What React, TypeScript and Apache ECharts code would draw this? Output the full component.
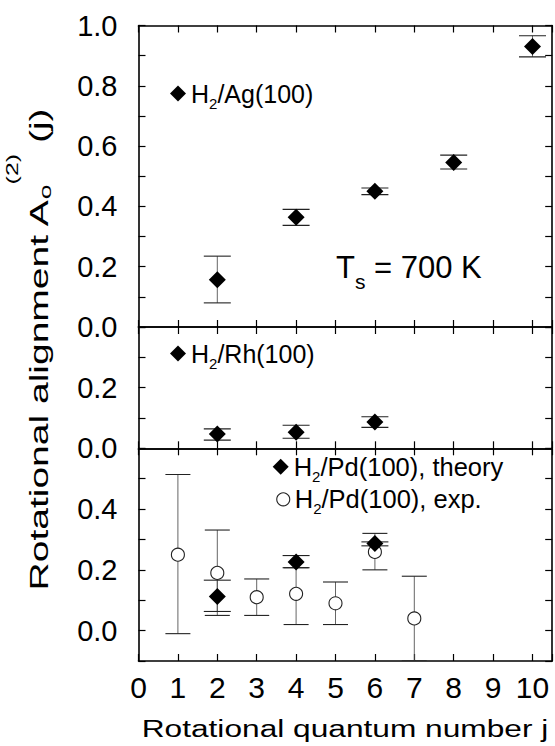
import React, { useEffect, useRef } from 'react';
import * as echarts from 'echarts';

// ---------- data ----------
const agJ = [2, 4, 6, 8, 10];
const agVal = [0.157, 0.364, 0.45, 0.546, 0.93];
const agLow = [0.08, 0.337, 0.439, 0.524, 0.896];
const agHigh = [0.235, 0.39, 0.461, 0.57, 0.966];

const rhJ = [2, 4, 6];
const rhVal = [0.047, 0.053, 0.087];
const rhLow = [0.027, 0.033, 0.069];
const rhHigh = [0.064, 0.076, 0.104];

const pdThJ = [2, 4, 6];
const pdThVal = [0.112, 0.226, 0.287];
const pdThLow = [0.063, 0.207, 0.279];
const pdThHigh = [0.166, 0.247, 0.292];

const pdExJ = [1, 2, 3, 4, 5, 6, 7];
const pdExVal = [0.25, 0.19, 0.11, 0.121, 0.09, 0.259, 0.04];
const pdExLow = [-0.01, 0.05, 0.05, 0.02, 0.02, 0.2, -0.1];
const pdExHigh = [0.514, 0.331, 0.17, 0.207, 0.16, 0.32, 0.179];

const seriesNames = ['H2/Ag(100)', 'H2/Rh(100)', 'H2/Pd(100), theory', 'H2/Pd(100), exp.'];
const panelRanges = [
  [0, 1.0],
  [0, 0.4],
  [-0.1, 0.6],
];
const panelLabelMax = [1.0, 0.2, 0.4];
const xRange = [0, 10.5];
const xTitle = 'Rotational quantum number j';
const tempLabel = '700 K';

const FONT = '"Liberation Sans", Arial, Helvetica, sans-serif';

export default function App() {
  const ref = useRef<HTMLDivElement>(null);

  useEffect(() => {
    if (!ref.current) return;
    const chart = echarts.init(ref.current, null, { renderer: 'svg' });

    const gridTops = [25.5, 327, 448.3];
    const gridHeights = [301.5, 121.3, 212.7];
    const grids = gridTops.map((t, i) => ({
      left: 138.5,
      width: 413.7,
      top: t,
      height: gridHeights[i],
      outerBoundsMode: 'none',
    }));

    const axisLine = { show: true, onZero: false, lineStyle: { color: '#000', width: 1.6 } };
    const axisTick = { show: true, inside: true, length: 7, lineStyle: { color: '#000', width: 1.2 } };

    const xAxes: any[] = [];
    const yAxes: any[] = [];
    for (let g = 0; g < 3; g++) {
      for (const pos of ['bottom', 'top']) {
        xAxes.push({
          type: 'value',
          gridIndex: g,
          position: pos,
          min: xRange[0],
          max: xRange[1],
          interval: 1,
          axisLine,
          axisTick,
          splitLine: { show: false },
          axisLabel: {
            show: g === 2 && pos === 'bottom',
            fontSize: 30,
            fontFamily: FONT,
            color: '#000',
            margin: 11,
            formatter: (v: number) => (Math.abs(v - Math.round(v)) < 1e-6 ? String(Math.round(v)) : ''),
          },
        });
      }
      for (const pos of ['left', 'right']) {
        yAxes.push({
          type: 'value',
          gridIndex: g,
          position: pos,
          min: panelRanges[g][0],
          max: panelRanges[g][1],
          interval: 0.1,
          axisLine,
          axisTick,
          splitLine: { show: false },
          axisLabel: {
            show: pos === 'left',
            fontSize: 29,
            fontFamily: FONT,
            color: '#000',
            margin: 21,
            formatter: (v: number) => {
              const t = Math.round(v * 10);
              if (t % 2 !== 0 || t < 0 || t > Math.round(panelLabelMax[g] * 10)) return '';
              return (t / 10).toFixed(1);
            },
          },
        });
      }
    }

    const errRender = (cap: number) => (params: any, api: any) => {
      const x = api.value(0);
      const lo = api.value(1);
      const hi = api.value(2);
      const pLo = api.coord([x, lo]);
      const pHi = api.coord([x, hi]);
      const stem = { stroke: '#555', lineWidth: 0.9 };
      const capStyle = { stroke: '#222', lineWidth: 1.1 };
      return {
        type: 'group',
        children: [
          { type: 'line', shape: { x1: pLo[0], y1: pLo[1], x2: pHi[0], y2: pHi[1] }, style: stem },
          { type: 'line', shape: { x1: pLo[0] - cap / 2, y1: pLo[1], x2: pLo[0] + cap / 2, y2: pLo[1] }, style: capStyle },
          { type: 'line', shape: { x1: pHi[0] - cap / 2, y1: pHi[1], x2: pHi[0] + cap / 2, y2: pHi[1] }, style: capStyle },
        ],
      };
    };

    const errSeries = (js: number[], lo: number[], hi: number[], g: number, cap: number) => ({
      type: 'custom',
      xAxisIndex: g * 2,
      yAxisIndex: g * 2,
      renderItem: errRender(cap),
      encode: { x: 0, y: [1, 2] },
      data: js.map((j, i) => [j, lo[i], hi[i]]),
      clip: true,
      z: 1,
      silent: true,
    });

    const diamondSeries = (name: string, js: number[], vals: number[], g: number) => ({
      type: 'scatter',
      name,
      xAxisIndex: g * 2,
      yAxisIndex: g * 2,
      symbol: 'diamond',
      symbolSize: 17,
      itemStyle: { color: '#000', opacity: 1 },
      data: js.map((j, i) => [j, vals[i]]),
      z: 3,
    });

    const circleSeries = (name: string, js: number[], vals: number[], g: number) => ({
      type: 'scatter',
      name,
      xAxisIndex: g * 2,
      yAxisIndex: g * 2,
      symbol: 'circle',
      symbolSize: 13,
      itemStyle: { color: '#fff', borderColor: '#222', borderWidth: 1.1, opacity: 1 },
      data: js.map((j, i) => [j, vals[i]]),
      z: 2,
    });

    const mkLegend = (name: string, left: number, top: number, icon: string, size: number, fs: number, itemStyle: any) => ({
      show: true,
      data: [name],
      left,
      top,
      orient: 'vertical',
      padding: 0,
      icon,
      itemWidth: size,
      itemHeight: size,
      selectedMode: false,
      itemStyle,
      formatter: (n: string) => '{m|H}{s|2}{m|' + n.slice(2) + '}',
      textStyle: {
        fontSize: fs,
        fontFamily: FONT,
        color: '#000',
        rich: {
          m: { fontSize: fs, fontFamily: FONT, color: '#000', lineHeight: 34, verticalAlign: 'middle' },
          s: { fontSize: 15, fontFamily: FONT, color: '#000', verticalAlign: 'bottom' },
        },
      },
    });

    const option: any = {
      animation: false,
      backgroundColor: '#fff',
      grid: grids,
      xAxis: xAxes,
      yAxis: yAxes,
      legend: [
        mkLegend(seriesNames[0], 170, 81, 'diamond', 16, 25, { color: '#000', opacity: 1 }),
        mkLegend(seriesNames[1], 170, 341, 'diamond', 16, 25, { color: '#000', opacity: 1 }),
        mkLegend(seriesNames[2], 272.7, 453.7, 'diamond', 16, 25.5, { color: '#000', opacity: 1 }),
        mkLegend(seriesNames[3], 276.2, 486.3, 'circle', 13, 25.5, {
          color: '#fff',
          borderColor: '#222',
          borderWidth: 1.1,
          opacity: 1,
        }),
      ],
      series: [
        errSeries(agJ, agLow, agHigh, 0, 27),
        errSeries(rhJ, rhLow, rhHigh, 1, 27),
        errSeries(pdExJ, pdExLow, pdExHigh, 2, 25),
        errSeries(pdThJ, pdThLow, pdThHigh, 2, 27),
        diamondSeries(seriesNames[0], agJ, agVal, 0),
        diamondSeries(seriesNames[1], rhJ, rhVal, 1),
        circleSeries(seriesNames[3], pdExJ, pdExVal, 2),
        diamondSeries(seriesNames[2], pdThJ, pdThVal, 2),
      ],
      graphic: {
        elements: [
          {
            type: 'text',
            x: 336,
            y: 267.5,
            silent: true,
            style: {
              text: '{m|T}{s|s}{m| = ' + tempLabel + '}',
              x: 0,
              y: 0,
              align: 'left',
              textAlign: 'left',
              verticalAlign: 'middle',
              textVerticalAlign: 'middle',
              fill: '#000',
              font: '31px ' + FONT,
              rich: {
                m: { fontSize: 31, fontFamily: FONT, fill: '#000', color: '#000', lineHeight: 48, verticalAlign: 'middle' },
                s: { fontSize: 21, fontFamily: FONT, fill: '#000', color: '#000', verticalAlign: 'bottom' },
              },
            },
          },
          {
            type: 'text',
            x: 345,
            y: 728.7,
            scaleX: 1.32,
            silent: true,
            style: {
              text: xTitle,
              x: 0,
              y: 0,
              align: 'center',
              textAlign: 'center',
              verticalAlign: 'middle',
              textVerticalAlign: 'middle',
              fill: '#000',
              font: '24px ' + FONT,
            },
          },
          {
            type: 'text',
            x: 39,
            y: 350,
            rotation: Math.PI / 2,
            scaleX: 1.56,
            silent: true,
            style: {
              text: '{m|Rotational alignment A}{b|o}{t|(2)}{m| (j)}',
              x: 0,
              y: 0,
              align: 'center',
              textAlign: 'center',
              verticalAlign: 'middle',
              textVerticalAlign: 'middle',
              fill: '#000',
              font: '25px ' + FONT,
              rich: {
                m: { fontSize: 25, fontFamily: FONT, fill: '#000', color: '#000', lineHeight: 70, verticalAlign: 'middle' },
                b: { fontSize: 17, fontFamily: FONT, fill: '#000', color: '#000', verticalAlign: 'bottom', padding: [0, 0, 20, 0] },
                t: { fontSize: 16, fontFamily: FONT, fill: '#000', color: '#000', verticalAlign: 'top' },
              },
            },
          },
        ],
      },
    };

    chart.setOption(option);
    return () => chart.dispose();
  }, []);

  return (
    <div
      ref={ref}
      style={{ position: 'absolute', left: 0, top: 0, width: 555, height: 746, background: '#fff' }}
    />
  );
}
